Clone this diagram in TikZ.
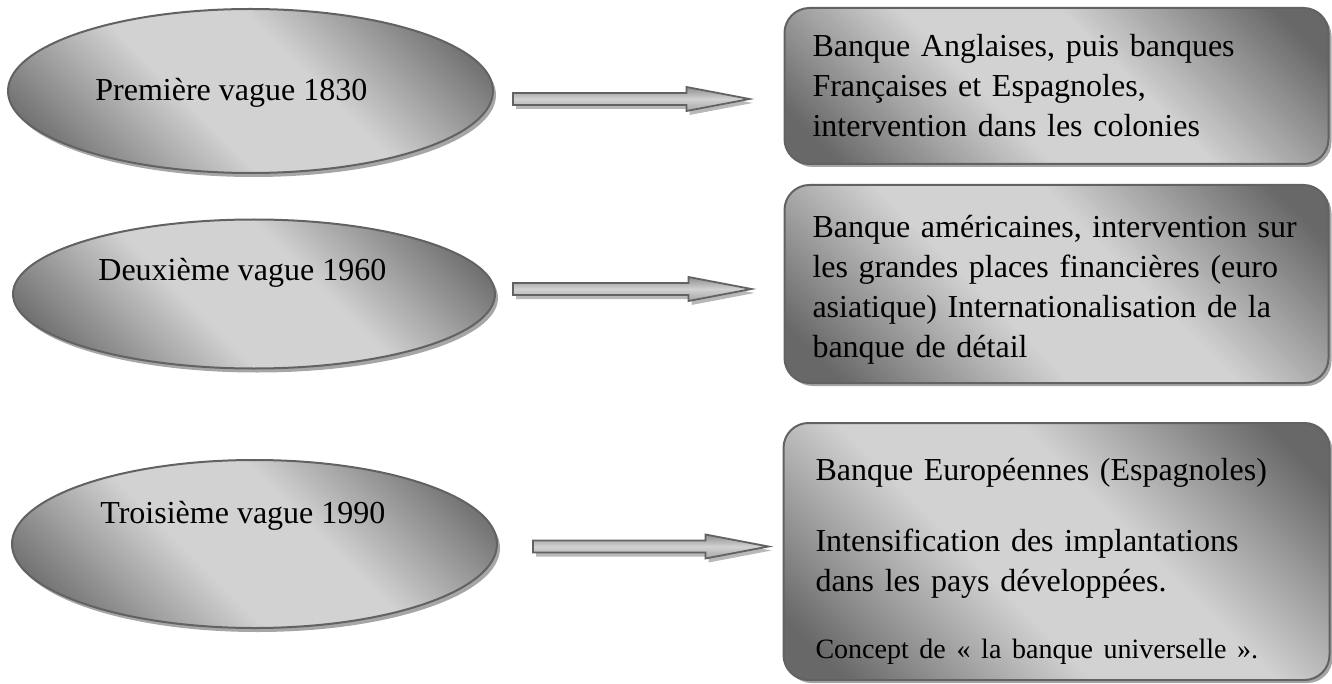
\documentclass[tikz,border=0pt]{standalone}
\usepackage{fontspec}
\setmainfont{Liberation Serif}
\usetikzlibrary{shapes.geometric,shadows,calc}
\definecolor{gdark}{HTML}{686868}
\definecolor{gmid}{HTML}{8E8E8E}
\definecolor{glight}{HTML}{D2D2D2}
\definecolor{edgegrey}{HTML}{626262}
\definecolor{shadgrey}{HTML}{A6A6A6}
\pgfdeclarehorizontalshading{wordgrey}{100bp}{color(0bp)=(gdark); color(20bp)=(gdark); color(42bp)=(glight); color(58bp)=(glight); color(80bp)=(gdark); color(100bp)=(gdark)}
\tikzset{
  wave/.style={ellipse, draw=edgegrey, line width=1pt, shading=wordgrey, shading angle=45,
    drop shadow={shadow xshift=1.5pt, shadow yshift=-2pt, fill=shadgrey, opacity=1}},
  wavetext/.style={font=\fontsize{16}{20}\selectfont, inner sep=0pt, anchor=base west},
  infobox/.style={rectangle, rounded corners=12.5pt, draw=edgegrey, line width=1pt,
    shading=wordgrey, shading angle=45, minimum width=272pt, align=left,
    font=\fontsize{16}{20}\selectfont, text width=244pt, inner xsep=14pt,
    drop shadow={shadow xshift=1.5pt, shadow yshift=-1.5pt, fill=shadgrey, opacity=1}},
  blockarrow/.style={draw=edgegrey, line width=0.9pt, line join=miter,
    top color=gmid, bottom color=gmid!80, middle color=glight,
    drop shadow={shadow xshift=1.5pt, shadow yshift=-2pt, fill=shadgrey!80, opacity=1}}
}
\begin{document}
\begin{tikzpicture}[x=0.5pt,y=-0.5pt]
\useasboundingbox (0,0) rectangle (1332,684);
% ellipses
\node[wave, minimum width=242.5pt, minimum height=82pt] (e1) at (250.5,91) {};
\node[wave, minimum width=241pt, minimum height=74.5pt] (e2) at (254,294) {};
\node[wave, minimum width=242.5pt, minimum height=84pt] (e3) at (254.5,544) {};
\node[wavetext] (l1) at (95,101) {Première vague 1830};
\node[wavetext] (l2) at (98,280) {Deuxième vague 1960};
\node[wavetext] (l3) at (100,523) {Troisième vague 1990};
% boxes
\node[infobox, minimum height=78pt] (b1) at (1056.5,86)
  {Banque Anglaises, puis banques\\Françaises et Espagnoles,\\intervention dans les colonies};
\node[infobox, minimum height=99pt] (b2) at (1056.5,284)
  {\vphantom{Bg}\\[-14pt]Banque américaines, intervention sur\\les grandes places financières (euro\\asiatique) Internationalisation de la\\banque de détail};
\node[infobox, minimum height=128.5pt, text width=241pt, inner xsep=16pt] (b3) at (1056.5,551.5)
  {\vphantom{Bg}\\[-9.5pt]Banque Européennes (Espagnoles)\\[15.5pt]Intensification des implantations\\dans les pays développées.\\[13.5pt]{\fontsize{14}{20}\selectfont Concept de « la banque universelle ».}};
% arrows
\coordinate (a1s) at ($(e1.east)+(19,8)$);
\coordinate (a1t) at ($(b1.west)+(-34,13)$);
\coordinate (a2s) at ($(e2.east)+(17,-5)$);
\coordinate (a2t) at ($(b2.west)+(-32,5)$);
\coordinate (a3s) at ($(e3.east)+(35,2.5)$);
\coordinate (a3t) at ($(b3.west)+(-14,-5)$);
\foreach \s/\t in {a1s/a1t,a2s/a2t,a3s/a3t}{
  \path[blockarrow] ($(\s)+(0,-6)$) -- ($(\t)+(-63,0)+(0,-6)$) -- ($(\t)+(-63,-12)$) -- (\t)
    -- ($(\t)+(-63,12)$) -- ($(\t)+(-63,6)$) -- ($(\s)+(0,6)$) -- cycle;
}
\end{tikzpicture}
\end{document}
